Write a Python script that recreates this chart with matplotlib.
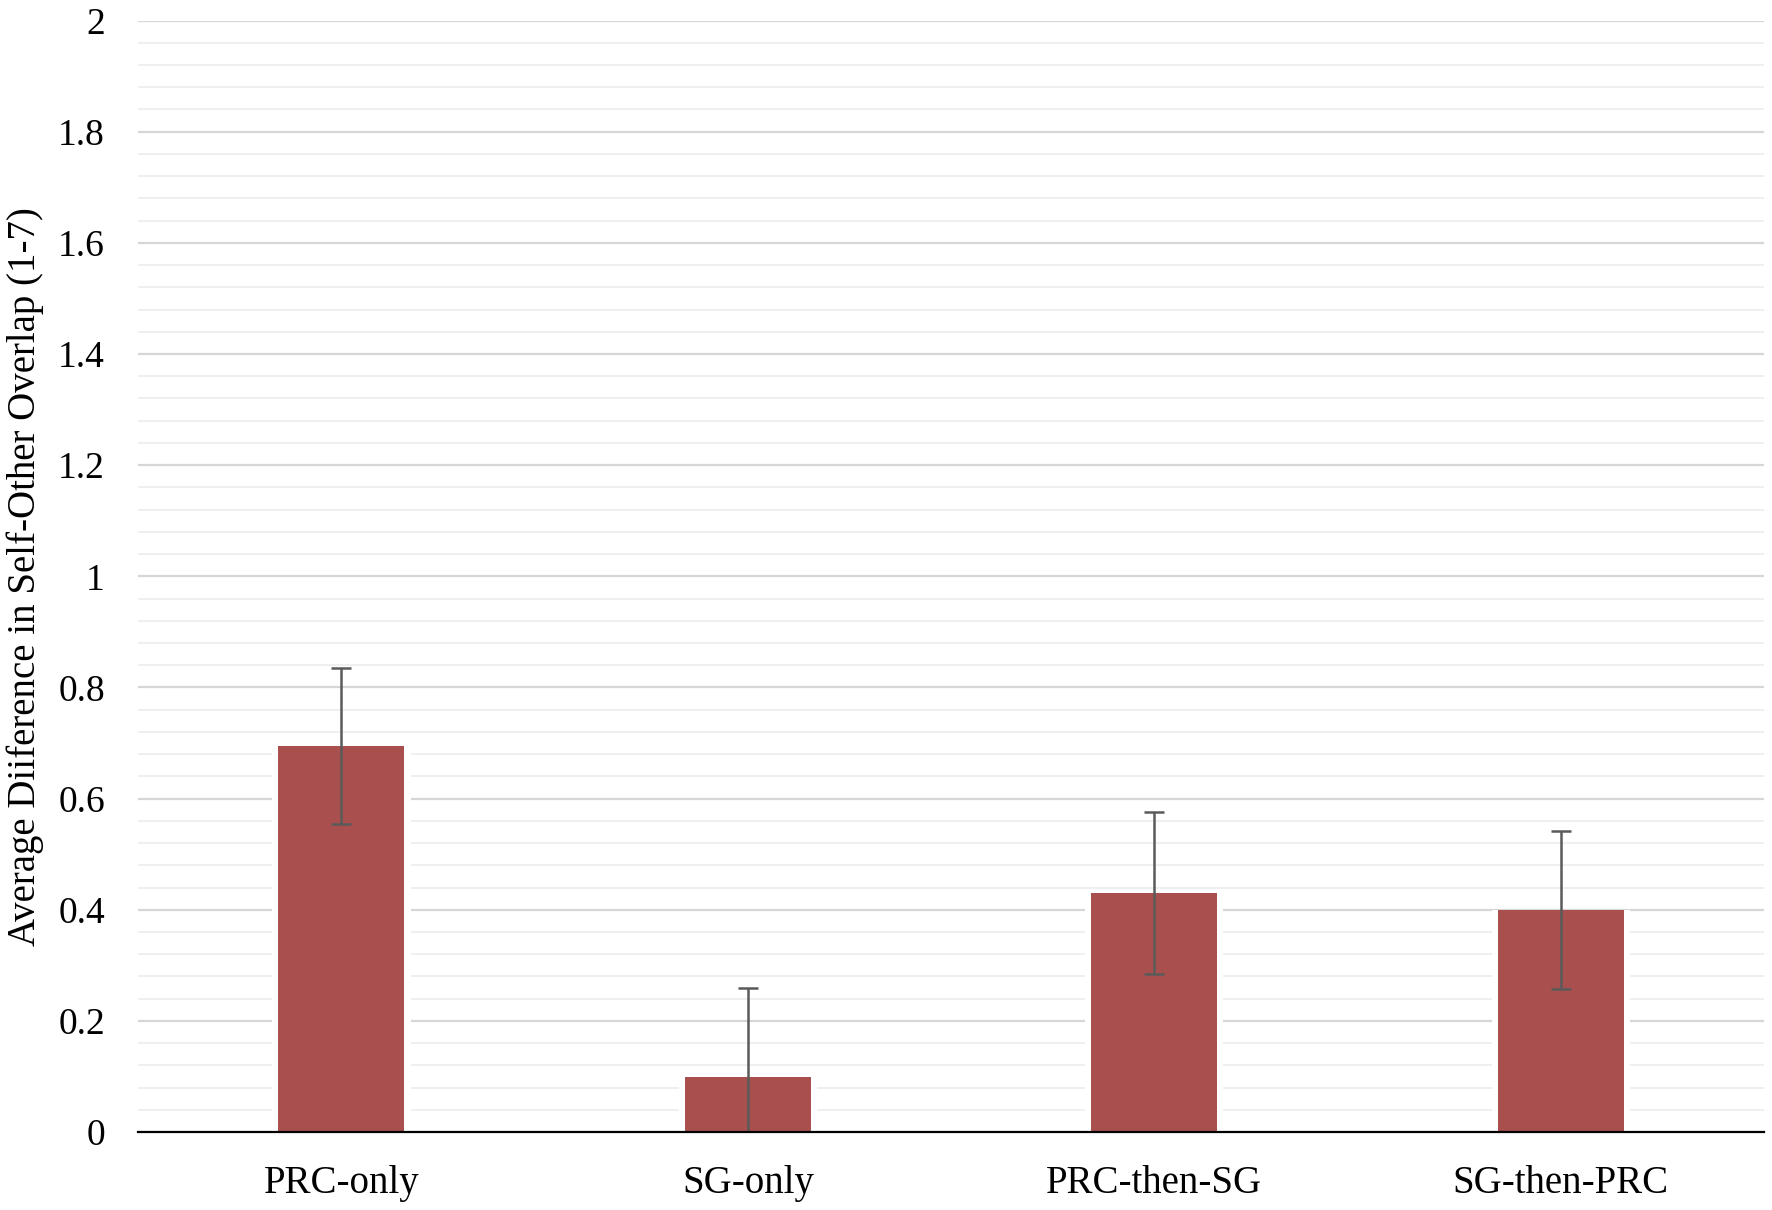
#!/usr/bin/env python3

import matplotlib
matplotlib.use('Agg')
import matplotlib.pyplot as plt
from matplotlib.ticker import MultipleLocator

conditions = ['PRC-only', 'SG-only', 'PRC-then-SG', 'SG-then-PRC']
means = [0.695, 0.10, 0.43, 0.40]
errors = [0.14, 0.16, 0.146, 0.142]

plt.rcParams['font.family'] = ['Liberation Serif', 'DejaVu Serif']

fig = plt.figure(figsize=(17.72, 12.10), dpi=100)
ax = fig.add_axes([0.078, 0.0644, 0.9175, 0.9186])

x = range(len(conditions))
# white halo behind the bars so the grid stops short of them
ax.bar(x, means, width=0.34, color='white', zorder=2)
ax.bar(x, means, width=0.31, color='#a9504e', zorder=3)
ax.errorbar(x, means, yerr=errors, fmt='none', ecolor='#5a5a5a',
            elinewidth=1.8, capsize=7, capthick=1.8, zorder=4)

ax.set_xlim(-0.5, 3.5)
ax.set_ylim(0, 2)
ax.yaxis.set_minor_locator(MultipleLocator(0.04))
ax.set_yticks([0, 0.2, 0.4, 0.6, 0.8, 1, 1.2, 1.4, 1.6, 1.8, 2])
ax.set_yticklabels(['0', '0.2', '0.4', '0.6', '0.8', '1', '1.2', '1.4', '1.6', '1.8', '2'])
ax.set_xticks(list(x))
ax.set_xticklabels(conditions)

ax.grid(axis='y', which='major', color='#d6d6d6', linewidth=1.6, zorder=0)
ax.grid(axis='y', which='minor', color='#ececec', linewidth=1.2, zorder=0)
ax.set_axisbelow(True)

for s in ['top', 'right', 'left']:
    ax.spines[s].set_visible(False)
ax.spines['bottom'].set_color('black')
ax.spines['bottom'].set_linewidth(1.6)
ax.spines['bottom'].set_zorder(5)

ax.tick_params(axis='both', which='both', length=0, labelsize=27)
ax.tick_params(axis='y', pad=24)
ax.tick_params(axis='x', pad=24, labelsize=28)

ax.set_ylabel('Average Diiference in Self-Other Overlap (1-7)', fontsize=28)
ax.yaxis.set_label_coords(-0.058, 0.5)

plt.savefig('out.png', dpi=100)
